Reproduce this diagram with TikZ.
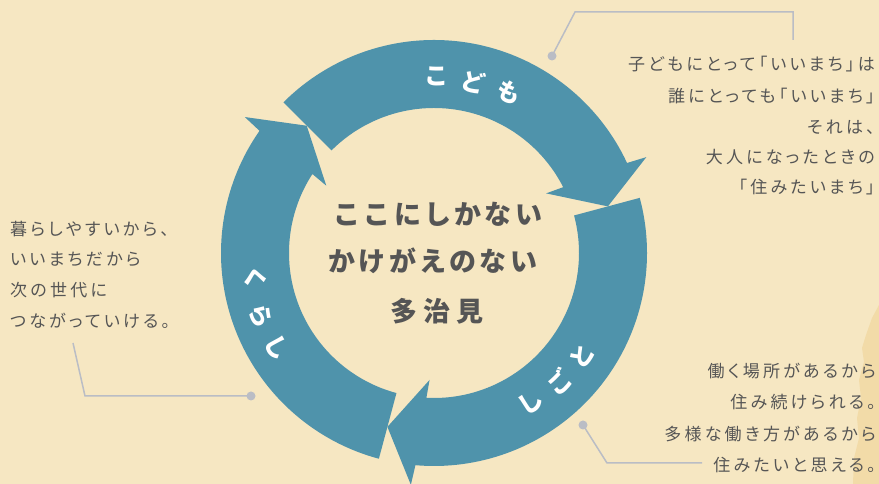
\documentclass[tikz,border=0pt]{standalone}
\usepackage{fontspec}
\setmainfont{Noto Sans CJK JP}
\newfontfamily\ctrfont[LetterSpace=12]{Noto Sans CJK JP}
\newfontfamily\ctrwide[LetterSpace=24]{Noto Sans CJK JP}
\newfontfamily\txtfont[LetterSpace=19,RawFeature=+palt]{Noto Sans CJK JP}
\newfontfamily\lblfont{Noto Sans CJK JP}
\definecolor{bg}{HTML}{F6E7C2}
\definecolor{strip}{HTML}{F2DBA8}
\definecolor{ring}{HTML}{4F93AB}
\definecolor{txt}{HTML}{555555}
\definecolor{conn}{HTML}{BABDC5}
\begin{document}
\begin{tikzpicture}[x=1pt,y=1pt,
  lbl/.style={text=white,font=\lblfont\bfseries\fontsize{24}{24}\selectfont,inner sep=0pt},
  ctr/.style={text=txt,anchor=base,inner sep=0pt},
  bodyr/.style={text=txt,anchor=base east,inner sep=0pt,font=\txtfont\fontsize{17}{17}\selectfont},
  bodyl/.style={text=txt,anchor=base west,inner sep=0pt,font=\txtfont\fontsize{17}{17}\selectfont},
  connline/.style={draw=conn,line width=1.5pt},
  dot/.style={circle,fill=conn,minimum size=9pt,inner sep=0pt}]
\useasboundingbox (0,0) rectangle (879,484);
\fill[bg] (0,0) rectangle (879,484);
\fill[strip] (879,179) -- (872,166) -- (866,149) -- (862,136) -- (864,122) -- (859,104) -- (861,86) -- (857,66) -- (859,46) -- (854,26) -- (853,0) -- (879,0) -- cycle;
\begin{scope}[shift={(434,231)}]
  \foreach \T in {135,15,255} {
    \fill[ring] (\T:213pt) arc[start angle=\T, end angle={\T-110}, radius=213pt]
      -- ({\T-110.7}:233pt) -- ({\T-120}:180pt) -- ({\T-107}:127pt)
      -- ({\T-108}:145pt) arc[start angle={\T-108}, end angle=\T, radius=145pt] -- cycle;
  }
  \node[lbl,rotate=-1]  (k1) at (89:177pt) {こ};
  \node[lbl,rotate=-13] (k2) at (77:176pt) {ど};
  \node[lbl,rotate=-25] (k3) at (65:177pt) {も};
  \node[lbl,rotate=34]  (s1) at (-57:178pt) {し};
  \node[lbl,rotate=44]  (s2) at (-46:180pt) {ご};
  \node[lbl,rotate=55]  (s3) at (-35:181pt) {と};
  \node[lbl,rotate=-81] (u1) at (188:181pt) {く};
  \node[lbl,rotate=-70] (u2) at (200:184pt) {ら};
  \node[lbl,rotate=-60] (u3) at (211:183pt) {し};
\end{scope}
% centre text
\node[ctr,font=\ctrfont\bfseries\fontsize{27}{27}\selectfont] (c1) at (438,259) {ここにしかない};
\node[ctr,font=\ctrfont\bfseries\fontsize{27}{27}\selectfont] (c2) at (433,212) {かけがえのない};
\node[ctr,font=\ctrwide\bfseries\fontsize{27}{27}\selectfont] (c3) at (437,162) {多治見};
% right top block
\node[bodyr] (r1) at (875,413) {子どもにとって「いいまち」は};
\node[bodyr] (r2) at (875,381) {誰にとっても「いいまち」};
\node[bodyr] (r3) at (875,350) {それは、};
\node[bodyr] (r4) at (875,320) {大人になったときの};
\node[bodyr] (r5) at (875,290) {「住みたいまち」};
% left block
\node[bodyl] (l1) at (10,248) {暮らしやすいから、};
\node[bodyl] (l2) at (10,218) {いいまちだから};
\node[bodyl] (l3) at (10,187) {次の世代に};
\node[bodyl] (l4) at (10,156) {つながっていける。};
% bottom right block
\node[bodyr] (b1) at (876,106) {働く場所があるから};
\node[bodyr] (b2) at (876,75) {住み続けられる。};
\node[bodyr] (b3) at (876,43) {多様な働き方があるから};
\node[bodyr] (b4) at (876,12) {住みたいと思える。};
% connectors
\node[dot] (d1) at (552,428) {};
\coordinate (t1) at (575,472);
\coordinate (t2) at (793,472);
\coordinate (t3) at (793,444);
\draw[connline] (d1.center) -- (t1) -- (t2) -- (t3);
\node[dot] (d2) at (251,88) {};
\coordinate (p1) at (85,88);
\coordinate (p2) at (73,141);
\draw[connline] (d2.center) -- (p1) -- (p2);
\node[dot] (d3) at (583,59) {};
\coordinate (q1) at (607,21);
\coordinate (q2) at (702,21);
\draw[connline] (d3.center) -- (q1) -- (q2);
\end{tikzpicture}
\end{document}
